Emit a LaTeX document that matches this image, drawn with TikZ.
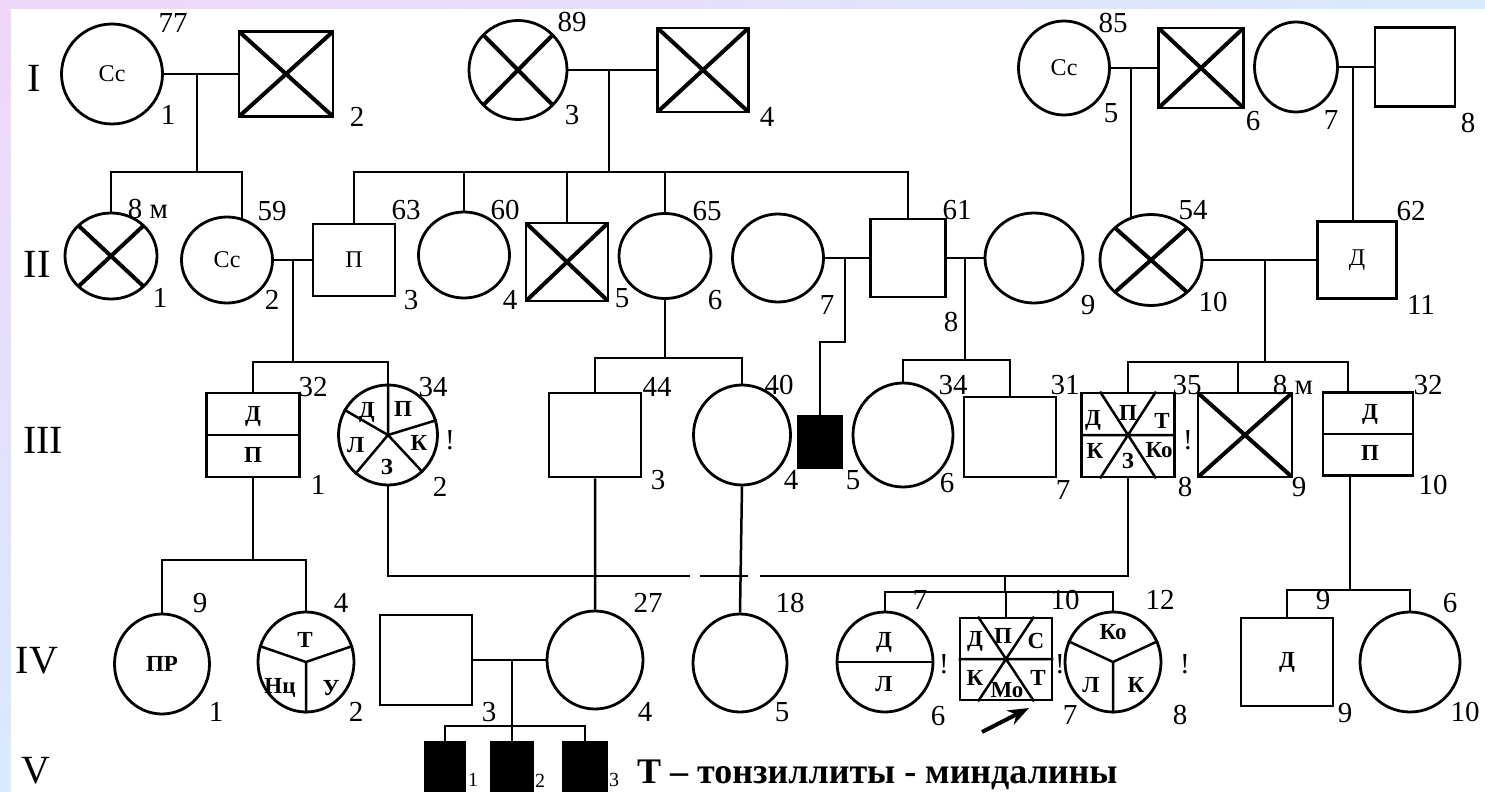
\documentclass[tikz,border=0pt]{standalone}
\usepackage{fontspec}
\setmainfont{Liberation Serif}
\usetikzlibrary{arrows.meta,shapes.geometric}
\definecolor{pinkbg}{RGB}{240,214,250}
\definecolor{bluebg}{RGB}{216,234,255}
\tikzset{every node/.style={font=\fontsize{29}{31}\selectfont}}
\tikzset{
  fem/.style={ellipse, draw, line width=2.8pt, inner sep=0pt},
  male/.style={rectangle, draw, line width=2.8pt, inner sep=0pt},
  sz/.style 2 args={minimum width=#1pt, minimum height=#2pt},
  dead/.style={path picture={
    \draw[line width=4pt]
      (path picture bounding box.north west) -- (path picture bounding box.south east)
      (path picture bounding box.south west) -- (path picture bounding box.north east);}},
  aff/.style={fill=black},
  num/.style={inner sep=0pt},
  gen/.style={inner sep=0pt, font=\fontsize{40}{42}\selectfont},
  sm/.style={font=\fontsize{24}{26}\selectfont},
  inl/.style={inner sep=0pt, font=\fontsize{23}{25}\selectfont\bfseries},
  lnk/.style={line width=2.5pt},
}

\begin{document}
\begin{tikzpicture}[x=1pt, y=1pt, >=Stealth]
  % Frame and background.
  \useasboundingbox (0,0) rectangle (1485,-792);
  \shade[left color=pinkbg, right color=bluebg] (0,0) rectangle (1485,-9);
  \shade[top color=pinkbg, bottom color=bluebg] (0,0) rectangle (11,-792);
  \fill[white] (11,-9) rectangle (1485,-792);

  % Generation numbers.
  \node[gen] (gI) at (34,-78) {I};
  \node[gen] (gII) at (37,-264) {II};
  \node[gen] (gIII) at (43,-440) {III};
  \node[gen] (gIV) at (37,-661) {IV};
  \node[gen] (gV) at (36,-771) {V};

  % Generation I.
  \node[fem, sz={101}{100}, sm] (i1) at (112,-74) {Сс};
  \node[male, dead, sz={94}{85}] (i2) at (286,-74) {};
  \node[fem, dead, sz={98}{99}] (i3) at (518,-70) {};
  \node[male, dead, sz={91}{84}] (i4) at (703,-70) {};
  \node[fem, sz={91}{94}, sm] (i5) at (1064,-68) {Сс};
  \node[male, dead, sz={85}{80}] (i6) at (1201,-68) {};
  \node[fem, sz={83}{90}] (i7) at (1296,-67) {};
  \node[male, sz={80}{79}] (i8) at (1415,-67) {};

  \node[num] (a-i1) at (173,-23) {77};
  \node[num] (n-i1) at (168,-115) {1};
  \node[num] (n-i2) at (357,-117) {2};
  \node[num] (a-i3) at (572,-22) {89};
  \node[num] (n-i3) at (572,-115) {3};
  \node[num] (n-i4) at (767,-117) {4};
  \node[num] (a-i5) at (1113,-23) {85};
  \node[num] (n-i5) at (1111,-113) {5};
  \node[num] (n-i6) at (1253,-121) {6};
  \node[num] (n-i7) at (1331,-120) {7};
  \node[num] (n-i8) at (1468,-123) {8};

  % Generation II.
  \node[fem, dead, sz={92}{86}] (ii1) at (111,-256) {};
  \node[fem, sz={91}{86}, sm] (ii2) at (227,-260) {Сс};
  \node[male, sz={82}{72}, sm] (ii3) at (354,-260) {П};
  \node[fem, sz={91}{86}] (ii4) at (464,-255) {};
  \node[male, dead, sz={82}{78}] (ii5) at (567,-262) {};
  \node[fem, sz={92}{85}] (ii6) at (665,-256) {};
  \node[fem, sz={91}{88}] (ii7) at (778,-258) {};
  \node[male, sz={75}{78}] (ii8) at (908,-258) {};
  \node[fem, sz={98}{90}] (ii9) at (1034,-258) {};
  \node[fem, dead, sz={102}{91}] (ii10) at (1151,-260) {};
  \node[male, sz={79}{77}, sm] (ii11) at (1357,-260) {Д};

  \node[num] (a-ii1) at (148,-209) {8 м};
  \node[num] (n-ii1) at (160,-298) {1};
  \node[num] (a-ii2) at (272,-211) {59};
  \node[num] (n-ii2) at (272,-300) {2};
  \node[num] (a-ii3) at (406,-210) {63};
  \node[num] (n-ii3) at (411,-300) {3};
  \node[num] (a-ii4) at (505,-210) {60};
  \node[num] (n-ii4) at (510,-300) {4};
  \node[num] (n-ii5) at (622,-298) {5};
  \node[num] (a-ii6) at (707,-211) {65};
  \node[num] (n-ii6) at (715,-300) {6};
  \node[num] (n-ii7) at (827,-305) {7};
  \node[num] (a-ii8) at (957,-210) {61};
  \node[num] (n-ii8) at (951,-322) {8};
  \node[num] (n-ii9) at (1088,-305) {9};
  \node[num] (a-ii10) at (1193,-210) {54};
  \node[num] (n-ii10) at (1213,-302) {10};
  \node[num] (a-ii11) at (1411,-211) {62};
  \node[num] (n-ii11) at (1421,-305) {11};

  % Lines from generation I to II.
  \coordinate (mI12) at (197,-74);
  \coordinate (mI34) at (609,-70);
  \coordinate (mI56) at (1131,-68);
  \coordinate (mI78) at (1353,-67);
  \coordinate (bI12) at (197,-172);
  \coordinate (bI34) at (609,-172);
  \coordinate (t-ii2) at (242,-172);
  \draw[lnk] (i1) -- (i2) (i3) -- (i4) (i5) -- (i6) (i7) -- (i8);
  \draw[lnk] (mI12) -- (bI12) (ii1.north) |- (t-ii2) -- (t-ii2 |- ii2.70);
  \draw[lnk] (mI34) -- (bI34) (ii3.north) |- (ii8.north |- bI34) -- (ii8.north);
  \draw[lnk] (ii4.north) -- (ii4.north |- bI34) (ii5.north) -- (ii5.north |- bI34)
    (ii6.north) -- (ii6.north |- bI34);
  \draw[lnk] (mI56) -- (mI56 |- ii10.115);
  \draw[lnk] (mI78) -- (mI78 |- ii11.north);

  % Generation III.
  \node[male, sz={93}{84}] (iii1) at (253,-435) {};
  \node[fem, sz={99}{100}] (iii2) at (388,-435) {};
  \node[male, sz={92}{84}] (iii3) at (595,-435) {};
  \node[fem, sz={97}{100}] (iii4) at (742,-435) {};
  \node[male, aff, sz={43}{52}] (iii5) at (820,-442) {};
  \node[fem, sz={100}{104}] (iii6) at (903,-435) {};
  \node[male, sz={92}{80}] (iii7) at (1010,-437) {};
  \node[male, sz={93}{84}] (iii8) at (1128,-435) {};
  \node[male, dead, sz={94}{84}] (iii9) at (1245,-435) {};
  \node[male, sz={90}{83}] (iii10) at (1368,-434) {};

  % Inner marks of III-1, III-2, III-8, III-10.
  \draw[lnk] (iii1.west) -- (iii1.east) (iii10.west) -- (iii10.east);
  \node[inl] (iii1-d) at (253,-416) {Д};
  \node[inl] (iii1-p) at (253,-455) {П};
  \node[inl] (iii10-d) at (1370,-414) {Д};
  \node[inl] (iii10-p) at (1370,-453) {П};
  \draw[lnk] (iii2.center) -- (iii2.90) (iii2.center) -- (iii2.150) (iii2.center) -- (iii2.230)
    (iii2.center) -- (iii2.313) (iii2.center) -- (iii2.17);
  \node[inl] (iii2-d) at ([shift={(133:31)}]iii2.center) {Д};
  \node[inl] (iii2-p) at ([shift={(60:30)}]iii2.center) {П};
  \node[inl] (iii2-k) at ([shift={(-14:32)}]iii2.center) {К};
  \node[inl] (iii2-z) at ([shift={(268:32)}]iii2.center) {З};
  \node[inl] (iii2-l) at ([shift={(198:34)}]iii2.center) {Л};
  \draw[lnk] (iii8.west) -- (iii8.east)
    ([xshift=-28pt]iii8.north) -- ([xshift=28pt]iii8.south)
    ([xshift=28pt]iii8.north) -- ([xshift=-28pt]iii8.south);
  \node[inl] (iii8-d) at (1093,-420) {Д};
  \node[inl] (iii8-p) at (1128,-413) {П};
  \node[inl] (iii8-t) at (1162,-421) {Т};
  \node[inl] (iii8-k) at (1095,-451) {К};
  \node[inl] (iii8-z) at (1128,-461) {З};
  \node[inl] (iii8-ko) at (1159,-450) {Ко};

  \node[num] (a-iii1) at (313,-387) {32};
  \node[num] (n-iii1) at (318,-485) {1};
  \node[num] (a-iii2) at (433,-387) {34};
  \node[num] (x-iii2) at (450,-440) {!};
  \node[num] (n-iii2) at (440,-487) {2};
  \node[num] (a-iii3) at (657,-387) {44};
  \node[num] (n-iii3) at (658,-480) {3};
  \node[num] (a-iii4) at (779,-385) {40};
  \node[num] (n-iii4) at (791,-480) {4};
  \node[num] (n-iii5) at (853,-480) {5};
  \node[num] (a-iii6) at (953,-385) {34};
  \node[num] (n-iii6) at (947,-483) {6};
  \node[num] (a-iii7) at (1065,-385) {31};
  \node[num] (n-iii7) at (1063,-490) {7};
  \node[num] (a-iii8) at (1187,-385) {35};
  \node[num] (x-iii8) at (1188,-440) {!};
  \node[num] (n-iii8) at (1185,-487) {8};
  \node[num] (a-iii9) at (1293,-385) {8 м};
  \node[num] (n-iii9) at (1299,-487) {9};
  \node[num] (a-iii10) at (1428,-385) {32};
  \node[num] (n-iii10) at (1433,-485) {10};

  % Lines from generation II to III.
  \coordinate (mII23) at (293,-260);
  \coordinate (mII78) at (845,-258);
  \coordinate (mII89) at (965,-258);
  \coordinate (mII1011) at (1265,-260);
  \coordinate (bII23) at (293,-362);
  \coordinate (bII78) at (845,-342);
  \coordinate (bII6) at (665,-358);
  \coordinate (bII89) at (965,-360);
  \coordinate (bII1011) at (1265,-362);
  \coordinate (t-iii9) at (1238,-362);
  \coordinate (t-iii10) at (1348,-362);
  \draw[lnk] (ii2) -- (ii3) (ii7) -- (ii8) (ii8) -- (ii9) (ii10) -- (ii11);
  \draw[lnk] (mII23) -- (bII23) (iii1.north) |- (iii2.north |- bII23) -- (iii2.north);
  \draw[lnk] (ii6.south) -- (bII6) (iii3.north) |- (iii4.north |- bII6) -- (iii4.north);
  \draw[lnk] (mII78) -- (bII78) -| (iii5.north);
  \draw[lnk] (mII89) -- (bII89) (iii6.north) |- (iii7.north |- bII89) -- (iii7.north);
  \draw[lnk] (mII1011) -- (bII1011) (iii8.north) |- (t-iii10) -- (t-iii10 |- iii10.north)
    (t-iii9) -- (t-iii9 |- iii9.north);

  % Generation IV.
  \node[fem, sz={95}{100}, inl] (iv1) at (162,-664) {ПР};
  \node[fem, sz={96}{100}] (iv2) at (306,-662) {};
  \node[male, sz={92}{90}] (iv3) at (426,-660) {};
  \node[fem, sz={96}{98}] (iv4) at (595,-660) {};
  \node[fem, sz={94}{98}] (iv5) at (740,-663) {};
  \node[fem, sz={96}{100}] (iv6) at (885,-662) {};
  \node[male, sz={92}{82}] (iv7) at (1006,-659) {};
  \node[fem, sz={96}{100}] (iv8) at (1113,-662) {};
  \node[male, sz={92}{88}, inl] (iv9) at (1287,-662) {Д};
  \node[fem, sz={100}{100}] (iv10) at (1410,-662) {};

  % Inner marks of IV-2, IV-6, IV-7, IV-8.
  \draw[lnk] (iv2.center) -- (iv2.161) (iv2.center) -- (iv2.19) (iv2.center) -- (iv2.270);
  \node[inl] (iv2-t) at (305,-640) {Т};
  \node[inl] (iv2-n) at (280,-688) {Нц};
  \node[inl] (iv2-u) at (331,-688) {У};
  \draw[lnk] (iv6.west) -- (iv6.east);
  \node[inl] (iv6-d) at (884,-642) {Д};
  \node[inl] (iv6-l) at (884,-684) {Л};
  \draw[lnk] (iv7.west) -- (iv7.east)
    ([xshift=-28pt]iv7.north) -- ([xshift=28pt]iv7.south)
    ([xshift=28pt]iv7.north) -- ([xshift=-28pt]iv7.south);
  \node[inl] (iv7-d) at (975,-641) {Д};
  \node[inl] (iv7-p) at (1003,-636) {П};
  \node[inl] (iv7-s) at (1036,-641) {С};
  \node[inl] (iv7-k) at (975,-678) {К};
  \node[inl] (iv7-mo) at (1007,-690) {Мо};
  \node[inl] (iv7-t) at (1038,-678) {Т};
  \draw[lnk] (iv8.center) -- (iv8.155) (iv8.center) -- (iv8.25) (iv8.center) -- (iv8.270);
  \node[inl] (iv8-ko) at (1113,-632) {Ко};
  \node[inl] (iv8-l) at (1091,-685) {Л};
  \node[inl] (iv8-k) at (1136,-685) {К};

  \node[num] (a-iv1) at (200,-603) {9};
  \node[num] (n-iv1) at (216,-712) {1};
  \node[num] (a-iv2) at (341,-603) {4};
  \node[num] (n-iv2) at (356,-712) {2};
  \node[num] (n-iv3) at (489,-712) {3};
  \node[num] (a-iv4) at (648,-603) {27};
  \node[num] (n-iv4) at (645,-712) {4};
  \node[num] (a-iv5) at (790,-603) {18};
  \node[num] (n-iv5) at (782,-712) {5};
  \node[num] (a-iv6) at (920,-600) {7};
  \node[num] (x-iv6) at (944,-664) {!};
  \node[num] (n-iv6) at (938,-716) {6};
  \node[num] (a-iv7) at (1065,-600) {10};
  \node[num] (x-iv7) at (1060,-664) {!};
  \node[num] (n-iv7) at (1070,-715) {7};
  \node[num] (a-iv8) at (1160,-600) {12};
  \node[num] (x-iv8) at (1185,-664) {!};
  \node[num] (n-iv8) at (1180,-715) {8};
  \node[num] (a-iv9) at (1323,-600) {9};
  \node[num] (n-iv9) at (1345,-713) {9};
  \node[num] (a-iv10) at (1450,-603) {6};
  \node[num] (n-iv10) at (1465,-712) {10};

  % Lines from generation III to IV.
  \coordinate (bIII1) at (253,-560);
  \coordinate (gapA) at (690,-576);
  \coordinate (gapB) at (700,-576);
  \coordinate (gapC) at (748,-576);
  \coordinate (gapD) at (760,-576);
  \coordinate (mIII28) at (1005,-576);
  \coordinate (bIII28) at (1005,-592);
  \coordinate (d-iii10) at ([xshift=-18pt]iii10.south);
  \coordinate (bIII10) at (1350,-590);
  \draw[lnk] (iii1.south) -- (bIII1) (iv1.north) |- (iv2.north |- bIII1) -- (iv2.north);
  \draw[lnk] (iii3.south) -- (iv4.north) (iii4.south) -- (iv5.north);
  \draw[lnk] (iii2.south) |- (gapA) (gapB) -- (gapC) (gapD) -| (iii8.south);
  \draw[lnk] (mIII28) -- (bIII28) (iv6.north) |- (iv8.north |- bIII28) -- (iv8.north)
    (iv7.north) -- (iv7.north |- bIII28);
  \draw[lnk] (d-iii10) -- (bIII10) (iv9.north) |- (iv10.north |- bIII10) -- (iv10.north);

  % Generation V.
  \node[male, aff, sz={40}{54}] (v1) at (445,-769) {};
  \node[male, aff, sz={42}{54}] (v2) at (512,-769) {};
  \node[male, aff, sz={44}{54}] (v3) at (585,-769) {};
  \node[num, font=\fontsize{20}{22}\selectfont] (n-v1) at (473,-780) {1};
  \node[num, font=\fontsize{20}{22}\selectfont] (n-v2) at (540,-781) {2};
  \node[num, font=\fontsize{20}{22}\selectfont] (n-v3) at (614,-780) {3};

  \coordinate (mIV34) at (512,-660);
  \coordinate (bIV34) at (512,-726);
  \draw[lnk] (iv3) -- (iv4);
  \draw[lnk] (mIV34) -- (bIV34) (v1.north) |- (v3.north |- bIV34) -- (v3.north)
    (v2.north) -- (v2.north |- bIV34);

  % Proband arrow and legend.
  \coordinate (pr-a) at (982,-732);
  \coordinate (pr-b) at (1029,-708);
  \draw[->, line width=4pt] (pr-a) -- (pr-b);
  \node[anchor=base west, inner sep=0pt, font=\fontsize{36}{38}\selectfont\bfseries]
    (legend) at (637,-783) {Т – тонзиллиты - миндалины};
\end{tikzpicture}
\end{document}
